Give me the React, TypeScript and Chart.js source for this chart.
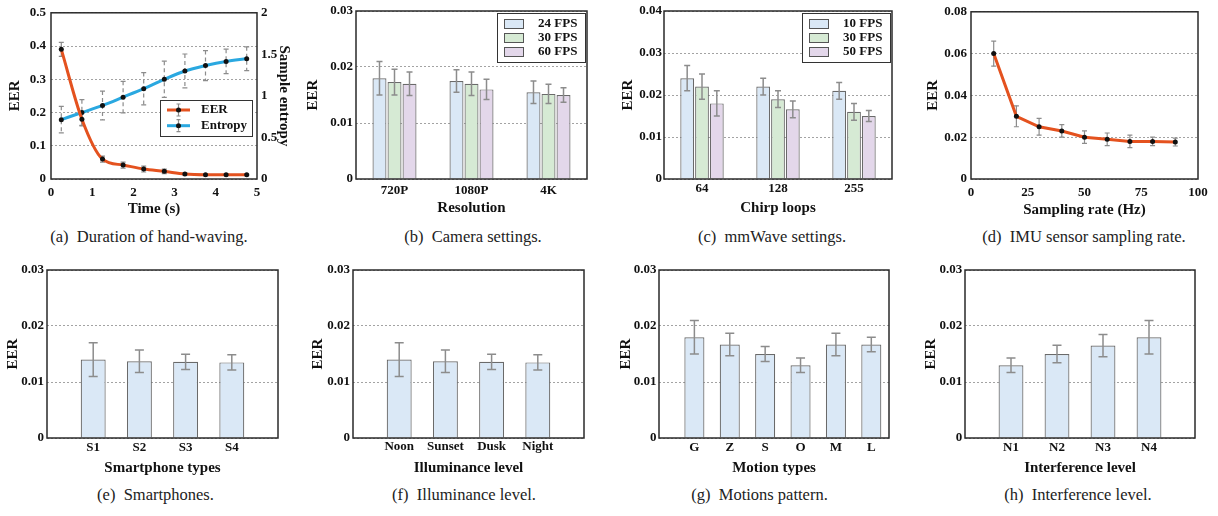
import React, { useEffect, useRef } from 'react';
import { Chart, registerables } from 'chart.js';

Chart.register(...registerables);

// ---------------- data ----------------
// (a) Duration of hand-waving
const timeSec = [0.25, 0.75, 1.25, 1.75, 2.25, 2.75, 3.25, 3.75, 4.25, 4.75];
const eerByTime = [0.39, 0.18, 0.06, 0.042, 0.03, 0.023, 0.015, 0.013, 0.013, 0.013];
const eerByTimeErr = [0.021, 0.02, 0.009, 0.009, 0.009, 0.007, 0.003, 0.002, 0.002, 0.002];
const entropyByTime = [0.714, 0.8, 0.885, 0.985, 1.087, 1.2, 1.3, 1.365, 1.415, 1.448];
const entropyByTimeErr = [0.16, 0.155, 0.173, 0.19, 0.194, 0.218, 0.204, 0.18, 0.147, 0.143];

// (b) Camera settings
const resolutions = ['720P', '1080P', '4K'];
const camFps = ['24 FPS', '30 FPS', '60 FPS'];
const eerCam24 = [0.018, 0.0175, 0.0155];
const eerCam24Err = [0.003, 0.002, 0.002];
const eerCam30 = [0.0173, 0.017, 0.0152];
const eerCam30Err = [0.0023, 0.0021, 0.0017];
const eerCam60 = [0.017, 0.016, 0.015];
const eerCam60Err = [0.0021, 0.0018, 0.0013];

// (c) mmWave settings
const chirpLoops = ['64', '128', '255'];
const mmFps = ['10 FPS', '30 FPS', '50 FPS'];
const eerMm10 = [0.024, 0.022, 0.021];
const eerMm10Err = [0.003, 0.002, 0.002];
const eerMm30 = [0.022, 0.019, 0.016];
const eerMm30Err = [0.003, 0.002, 0.002];
const eerMm50 = [0.018, 0.0166, 0.015];
const eerMm50Err = [0.003, 0.002, 0.0013];

// (d) IMU sampling rate
const samplingHz = [10, 20, 30, 40, 50, 60, 70, 80, 90];
const eerImu = [0.06, 0.03, 0.025, 0.023, 0.02, 0.019, 0.018, 0.018, 0.0177];
const eerImuErr = [0.006, 0.005, 0.004, 0.003, 0.003, 0.003, 0.003, 0.002, 0.0019];

// (e) Smartphones
const phones = ['S1', 'S2', 'S3', 'S4'];
const eerPhone = [0.014, 0.0137, 0.0136, 0.0135];
const eerPhoneErr = [0.003, 0.002, 0.00135, 0.00135];

// (f) Illuminance
const illuminance = ['Noon', 'Sunset', 'Dusk', 'Night'];
const eerIllum = [0.014, 0.0137, 0.0136, 0.0135];
const eerIllumErr = [0.003, 0.002, 0.00135, 0.00135];

// (g) Motions
const motions = ['G', 'Z', 'S', 'O', 'M', 'L'];
const eerMotion = [0.018, 0.0167, 0.015, 0.013, 0.0167, 0.0167];
const eerMotionErr = [0.003, 0.002, 0.00135, 0.0013, 0.002, 0.0013];

// (h) Interference
const interference = ['N1', 'N2', 'N3', 'N4'];
const eerInterf = [0.013, 0.015, 0.0165, 0.018];
const eerInterfErr = [0.0013, 0.00155, 0.002, 0.003];

// ---------------- styles ----------------
const FONT = "'Liberation Serif', 'Times New Roman', serif";
const RED = '#E4521F';
const BLUE = '#2AA8E0';
const ERR = '#8c8c8c';
const BAR_BORDER = '#6a6a6a';
const BAR_BLUE = '#DAE8F6';
const BAR_GREEN = '#D6EAD4';
const BAR_PURPLE = '#E3D7EA';
const TXT = '#111';

const tickFont = { family: FONT, size: 13, weight: 'bold' };
const titleFont = { family: FONT, size: 15, weight: 'bold' };

// ---------------- plugins ----------------
function drawErrorBars(chart: any, opts: any) {
  const ctx = chart.ctx;
  chart.data.datasets.forEach((ds: any, i: number) => {
    if (!ds.errors) return;
    const meta = chart.getDatasetMeta(i);
    const ys = chart.scales[meta.yAxisID];
    meta.data.forEach((el: any, j: number) => {
      const raw = ds.data[j];
      const v = typeof raw === 'number' ? raw : raw.y;
      const e = ds.errors[j];
      const x = el.x;
      const y1 = ys.getPixelForValue(v + e);
      const y2 = ys.getPixelForValue(v - e);
      const cap = opts.cap || 3;
      ctx.save();
      ctx.strokeStyle = ERR;
      ctx.lineWidth = opts.width || 1.5;
      ctx.setLineDash(ds.errDash || []);
      ctx.beginPath();
      ctx.moveTo(x, y1);
      ctx.lineTo(x, y2);
      ctx.stroke();
      ctx.setLineDash([]);
      ctx.beginPath();
      ctx.moveTo(x - cap, y1);
      ctx.lineTo(x + cap, y1);
      ctx.moveTo(x - cap, y2);
      ctx.lineTo(x + cap, y2);
      ctx.stroke();
      ctx.restore();
    });
  });
}

const errorBarPlugin = {
  id: 'errorBars',
  beforeDatasetsDraw(chart: any, _a: any, opts: any) {
    if (opts.phase === 'before') drawErrorBars(chart, opts);
  },
  afterDatasetsDraw(chart: any, _a: any, opts: any) {
    if (opts.phase !== 'before') drawErrorBars(chart, opts);
  },
};

const decorPlugin = {
  id: 'decor',
  afterDraw(chart: any, _a: any, opts: any) {
    const { ctx, chartArea: a } = chart;
    ctx.save();
    ctx.strokeStyle = '#2a2a2a';
    ctx.lineWidth = 1.5;
    ctx.strokeRect(a.left, a.top, a.right - a.left, a.bottom - a.top);
    const lg = opts && opts.legend;
    if (lg) {
      const bx = Math.round(a.right - lg.fromRight);
      const by = Math.round(a.top + lg.fromTop);
      ctx.fillStyle = '#fff';
      ctx.fillRect(bx, by, lg.w, lg.h);
      ctx.strokeStyle = '#333';
      ctx.lineWidth = 1;
      ctx.strokeRect(bx + 0.5, by + 0.5, lg.w, lg.h);
      ctx.font = `bold 13px ${FONT}`;
      ctx.textBaseline = 'middle';
      ctx.textAlign = 'left';
      chart.data.datasets.forEach((ds: any, i: number) => {
        const y = by + lg.firstRow + i * lg.rowGap;
        if (lg.kind === 'box') {
          ctx.fillStyle = ds.backgroundColor;
          ctx.fillRect(bx + lg.swX, y - 4.5, 19, 9);
          ctx.strokeStyle = '#555';
          ctx.lineWidth = 1;
          ctx.strokeRect(bx + lg.swX + 0.5, y - 4.5 + 0.5, 19, 9);
        } else {
          const x0 = bx + lg.swX;
          const x1 = x0 + 23;
          const xm = (x0 + x1) / 2;
          ctx.strokeStyle = ERR;
          ctx.lineWidth = 1.2;
          ctx.setLineDash(ds.errDash || []);
          ctx.beginPath();
          ctx.moveTo(xm, y - 6);
          ctx.lineTo(xm, y + 6);
          ctx.stroke();
          ctx.setLineDash([]);
          ctx.beginPath();
          ctx.moveTo(xm - 2, y - 6);
          ctx.lineTo(xm + 2, y - 6);
          ctx.moveTo(xm - 2, y + 6);
          ctx.lineTo(xm + 2, y + 6);
          ctx.stroke();
          ctx.strokeStyle = ds.borderColor;
          ctx.lineWidth = 3;
          ctx.beginPath();
          ctx.moveTo(x0, y);
          ctx.lineTo(x1, y);
          ctx.stroke();
          ctx.fillStyle = '#111';
          ctx.beginPath();
          ctx.arc(xm, y, 2.5, 0, Math.PI * 2);
          ctx.fill();
        }
        ctx.fillStyle = TXT;
        ctx.fillText(ds.label, bx + lg.textX, y);
      });
    }
    ctx.restore();
  },
};

// ---------------- layout helpers ----------------
type P = {
  cl: number; ct: number; cw: number; ch: number;
  pl: number; pt: number; pr: number; pb: number;
  yTitleX: number; xLabelY: number; xTitleY: number; yTickPad: number;
};

function layoutOpts(p: P, rightAxis = false) {
  return {
    padding: {
      left: 0,
      top: p.pt - p.ct,
      bottom: 0,
      right: rightAxis ? 0 : p.cl + p.cw - p.pr,
    },
  };
}

function fmt(d: number) {
  return (v: any) => (Number(v) === 0 ? '0' : Number(v).toFixed(d));
}

function yAxis(p: P, max: number, step: number, digits: number) {
  return {
    type: 'linear',
    position: 'left',
    min: 0,
    max,
    afterFit: (s: any) => {
      s.width = p.pl - p.cl;
    },
    ticks: { stepSize: step, padding: p.yTickPad, font: tickFont, color: TXT, callback: fmt(digits) },
    grid: { color: '#a3a3a3', lineWidth: 1, drawTicks: false },
    border: { display: false, dash: [2, 2] },
    title: {
      display: true,
      text: 'EER',
      font: titleFont,
      color: TXT,
      padding: { top: p.yTitleX - p.cl - 9, bottom: 0 },
    },
  };
}

function xAxis(p: P, title: string, extraTicks: any = {}) {
  return {
    afterFit: (s: any) => {
      s.height = p.ct + p.ch - p.pb;
    },
    ticks: {
      padding: p.xLabelY - p.pb - 7.8,
      font: tickFont,
      color: TXT,
      maxRotation: 0,
      autoSkip: false,
      ...extraTicks,
    },
    grid: { display: false, drawTicks: false },
    border: { display: false },
    title: {
      display: true,
      text: title,
      font: titleFont,
      color: TXT,
      padding: { top: 0, bottom: p.ct + p.ch - p.xTitleY - 9 },
    },
  };
}

const baseOpts = {
  responsive: false,
  animation: false,
  events: [],
};

function noLegend(extra: any) {
  return { legend: { display: false }, tooltip: { enabled: false }, ...extra };
}

// ---------------- panels ----------------
const PA: P = { cl: 0, ct: 0, cw: 300, ch: 220, pl: 51, pt: 11, pr: 257, pb: 179, yTitleX: 15, xLabelY: 193, xTitleY: 209, yTickPad: 5 };
const PB: P = { cl: 300, ct: 0, cw: 295, ch: 220, pl: 356, pt: 11, pr: 587, pb: 179, yTitleX: 313, xLabelY: 191, xTitleY: 208, yTickPad: 3 };
const PC: P = { cl: 605, ct: 0, cw: 295, ch: 220, pl: 664, pt: 11, pr: 892, pb: 179, yTitleX: 628, xLabelY: 188.5, xTitleY: 208, yTickPad: 2 };
const PD: P = { cl: 910, ct: 0, cw: 308, ch: 220, pl: 971, pt: 11, pr: 1198, pb: 179, yTitleX: 933, xLabelY: 192.5, xTitleY: 210, yTickPad: 4 };
const PE: P = { cl: 0, ct: 255, cw: 300, ch: 225, pl: 47, pt: 270, pr: 278, pb: 438, yTitleX: 13, xLabelY: 447.7, xTitleY: 468.3, yTickPad: 3 };
const PF: P = { cl: 300, ct: 255, cw: 300, ch: 225, pl: 353, pt: 270, pr: 584, pb: 438, yTitleX: 318, xLabelY: 446.7, xTitleY: 467.7, yTickPad: 3 };
const PG: P = { cl: 605, ct: 255, cw: 295, ch: 225, pl: 659, pt: 270, pr: 889, pb: 438, yTitleX: 626, xLabelY: 447.7, xTitleY: 468.3, yTickPad: 2.5 };
const PH: P = { cl: 910, ct: 255, cw: 300, ch: 225, pl: 965, pt: 270, pr: 1195, pb: 438, yTitleX: 931, xLabelY: 447.7, xTitleY: 468.3, yTickPad: 2.7 };

function makeA(p: P) {
  const pts = (ys: number[]) => timeSec.map((t, i) => ({ x: t, y: ys[i] }));
  return {
    type: 'line',
    data: {
      datasets: [
        {
          label: 'EER', data: pts(eerByTime), yAxisID: 'y', borderColor: RED, borderWidth: 3,
          cubicInterpolationMode: 'monotone', pointRadius: 2.5, pointBackgroundColor: '#111', pointBorderWidth: 0,
          errors: eerByTimeErr, errDash: [],
        },
        {
          label: 'Entropy', data: pts(entropyByTime), yAxisID: 'y2', borderColor: BLUE, borderWidth: 3,
          cubicInterpolationMode: 'monotone', pointRadius: 2.5, pointBackgroundColor: '#111', pointBorderWidth: 0,
          errors: entropyByTimeErr, errDash: [4, 3],
        },
      ],
    },
    options: {
      ...baseOpts,
      layout: layoutOpts(p, true),
      scales: {
        x: { ...xAxis(p, 'Time (s)', { stepSize: 1 }), type: 'linear', min: 0, max: 5 },
        y: yAxis(p, 0.5, 0.1, 1),
        y2: {
          type: 'linear', position: 'right', min: 0, max: 2,
          afterFit: (s: any) => { s.width = p.cl + p.cw - p.pr; },
          ticks: { stepSize: 0.5, padding: 4, font: tickFont, color: TXT, callback: (v: any) => String(Number(v)) },
          grid: { display: false, drawTicks: false },
          border: { display: false },
          title: { display: true, text: 'Sample entropy', font: titleFont, color: TXT, padding: { top: 7, bottom: 0 } },
        },
      },
      plugins: noLegend({
        errorBars: { phase: 'before', cap: 2.5, width: 1.2 },
        decor: { legend: { kind: 'line', fromRight: 97, fromTop: 87, w: 92, h: 36, firstRow: 10, rowGap: 15.7, swX: 7, textX: 41 } },
      }),
    },
    plugins: [errorBarPlugin, decorPlugin],
  };
}

function groupedBars(p: P, cats: string[], labels: string[], vals: number[][], errs: number[][], title: string, max: number) {
  const fills = [BAR_BLUE, BAR_GREEN, BAR_PURPLE];
  return {
    type: 'bar',
    data: {
      labels: cats,
      datasets: labels.map((l, i) => ({
        label: l, data: vals[i], errors: errs[i], backgroundColor: fills[i], borderColor: BAR_BORDER, borderWidth: 1.2,
      })),
    },
    options: {
      ...baseOpts,
      layout: layoutOpts(p),
      datasets: { bar: { categoryPercentage: 0.585, barPercentage: 0.93 } },
      scales: {
        x: { ...xAxis(p, title), type: 'category' },
        y: yAxis(p, max, 0.01, 2),
      },
      plugins: noLegend({
        errorBars: { phase: 'after', cap: 3, width: 1.5 },
        decor: { legend: { kind: 'box', fromRight: 90, fromTop: 2, w: 88, h: 49, firstRow: 10.5, rowGap: 14, swX: 7, textX: 41 } },
      }),
    },
    plugins: [errorBarPlugin, decorPlugin],
  };
}

function makeB(p: P) {
  return groupedBars(p, resolutions, camFps, [eerCam24, eerCam30, eerCam60], [eerCam24Err, eerCam30Err, eerCam60Err], 'Resolution', 0.03);
}
function makeC(p: P) {
  return groupedBars(p, chirpLoops, mmFps, [eerMm10, eerMm30, eerMm50], [eerMm10Err, eerMm30Err, eerMm50Err], 'Chirp loops', 0.04);
}

function makeD(p: P) {
  return {
    type: 'line',
    data: {
      datasets: [
        {
          label: 'EER', data: samplingHz.map((h, i) => ({ x: h, y: eerImu[i] })), borderColor: RED, borderWidth: 3,
          tension: 0, pointRadius: 2.5, pointBackgroundColor: '#111', pointBorderWidth: 0, errors: eerImuErr, errDash: [],
        },
      ],
    },
    options: {
      ...baseOpts,
      layout: layoutOpts(p),
      scales: {
        x: { ...xAxis(p, 'Sampling rate (Hz)', { stepSize: 25 }), type: 'linear', min: 0, max: 100 },
        y: yAxis(p, 0.08, 0.02, 2),
      },
      plugins: noLegend({ errorBars: { phase: 'before', cap: 2.5, width: 1.2 }, decor: {} }),
    },
    plugins: [errorBarPlugin, decorPlugin],
  };
}

function singleBars(p: P, cats: string[], vals: number[], errs: number[], title: string, xmax: number, barPct: number) {
  return {
    type: 'bar',
    data: {
      datasets: [
        {
          label: 'EER', data: cats.map((_, i) => ({ x: i + 1, y: vals[i] })), errors: errs,
          backgroundColor: BAR_BLUE, borderColor: BAR_BORDER, borderWidth: 1.2,
        },
      ],
    },
    options: {
      ...baseOpts,
      layout: layoutOpts(p),
      datasets: { bar: { categoryPercentage: 1, barPercentage: barPct } },
      scales: {
        x: {
          ...xAxis(p, title, { callback: (v: any) => cats[Math.round(Number(v)) - 1] ?? '' }),
          type: 'linear', offset: false, min: 0, max: xmax,
          afterBuildTicks: (s: any) => { s.ticks = cats.map((_, i) => ({ value: i + 1 })); },
        },
        y: yAxis(p, 0.03, 0.01, 2),
      },
      plugins: noLegend({ errorBars: { phase: 'after', cap: 4.5, width: 1.5 }, decor: {} }),
    },
    plugins: [errorBarPlugin, decorPlugin],
  };
}

function makeE(p: P) { return singleBars(p, phones, eerPhone, eerPhoneErr, 'Smartphone types', 5, 0.54); }
function makeF(p: P) { return singleBars(p, illuminance, eerIllum, eerIllumErr, 'Illuminance level', 5, 0.54); }
function makeG(p: P) { return singleBars(p, motions, eerMotion, eerMotionErr, 'Motion types', 6.5, 0.567); }
function makeH(p: P) { return singleBars(p, interference, eerInterf, eerInterfErr, 'Interference level', 5, 0.54); }

const PANELS: { p: P; make: (p: P) => any }[] = [
  { p: PA, make: makeA },
  { p: PB, make: makeB },
  { p: PC, make: makeC },
  { p: PD, make: makeD },
  { p: PE, make: makeE },
  { p: PF, make: makeF },
  { p: PG, make: makeG },
  { p: PH, make: makeH },
];

const CAPTIONS = [
  { x: 149, y: 237, text: '(a)  Duration of hand-waving.' },
  { x: 473, y: 237, text: '(b)  Camera settings.' },
  { x: 772, y: 237, text: '(c)  mmWave settings.' },
  { x: 1084, y: 237, text: '(d)  IMU sensor sampling rate.' },
  { x: 155.5, y: 495, text: '(e)  Smartphones.' },
  { x: 464, y: 495, text: '(f)  Illuminance level.' },
  { x: 759.5, y: 495, text: '(g)  Motions pattern.' },
  { x: 1078, y: 495, text: '(h)  Interference level.' },
];

function ChartBox({ p, make }: { p: P; make: (p: P) => any }) {
  const ref = useRef<HTMLCanvasElement>(null);
  useEffect(() => {
    const chart = new Chart(ref.current as HTMLCanvasElement, make(p));
    return () => chart.destroy();
  }, []);
  return (
    <canvas
      ref={ref}
      width={p.cw}
      height={p.ch}
      style={{ position: 'absolute', left: p.cl, top: p.ct, width: p.cw, height: p.ch }}
    />
  );
}

export default function App() {
  return (
    <div style={{ position: 'fixed', left: 0, top: 0, width: 1218, height: 516, background: '#fff', overflow: 'hidden' }}>
      {PANELS.map((pn, i) => (
        <ChartBox key={i} p={pn.p} make={pn.make} />
      ))}
      {CAPTIONS.map((c, i) => (
        <div
          key={'c' + i}
          style={{
            position: 'absolute',
            left: c.x,
            top: c.y,
            transform: 'translate(-50%, -50%)',
            whiteSpace: 'pre',
            fontFamily: FONT,
            fontSize: 16.5,
            color: '#222',
            lineHeight: 1,
          }}
        >
          {c.text}
        </div>
      ))}
    </div>
  );
}
